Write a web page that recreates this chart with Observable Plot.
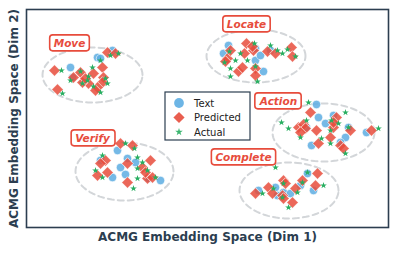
<!DOCTYPE html>
<html>
<head>
<meta charset="utf-8">
<script src="https://cdn.jsdelivr.net/npm/d3@7"></script>
<script src="https://cdn.jsdelivr.net/npm/@observablehq/plot@0.6"></script>
<style>
  html, body { margin: 0; padding: 0; background: white; }
  #chart svg { display: block; }
</style>
</head>
<body>
<div id="chart"></div>
<script>
// ---- Cluster metadata ----
const clusterNames = ["Move", "Locate", "Action", "Verify", "Complete"];
const ellipseCx = [-11.5, 4.85, 11.6, -8.3, 8.15];
const ellipseCy = [4.35, 6.25, -1.4, -5.3, -7.2];
const ellipseRx = [5.0, 4.95, 5.1, 4.9, 4.95];
const ellipseRy = [2.75, 2.65, 2.9, 2.9, 2.8];
const labelX = [-13.8, 3.9, 7.1, -11.5, 3.6];
const labelY = [7.5, 9.4, 1.7, -2.0, -3.9];

// ---- Legend / axis text ----
const seriesNames = ["Text", "Predicted", "Actual"];
const xTitle = "ACMG Embedding Space (Dim 1)";
const yTitle = "ACMG Embedding Space (Dim 2)";

// ---- Points: [x, y] in embedding units ----
const moveText = [[-13.7,5.1],[-11.0,6.1],[-13.5,4.1],[-10.7,6.0],[-9.5,6.8]];
const movePred = [[-15.3,4.8],[-15.0,2.9],[-11.4,4.5],[-11.9,3.5],[-12.7,4.6],[-12.5,3.6],[-10.5,5.1],[-10.4,4.1],[-10.5,3.6],[-11.0,3.1],[-10.0,6.6],[-9.2,6.5],[-11.2,2.8],[-12.2,4.0],[-13.4,4.1]];
const moveActual = [[-14.6,4.8],[-14.5,2.5],[-11.5,5.1],[-10.7,5.8],[-12.7,4.7],[-13.7,3.8],[-12.5,3.5],[-11.9,4.2],[-11.4,3.2],[-10.7,2.6],[-10.2,4.0],[-9.7,6.3],[-8.9,6.5],[-10.0,3.5],[-12.0,3.8]];

const locateText = [[2.1,7.3],[4.8,5.8],[5.6,4.7],[4.8,7.0],[5.3,6.3],[6.3,6.8],[1.6,6.5]];
const locatePred = [[3.9,7.5],[3.7,6.5],[3.1,4.7],[3.5,5.1],[2.0,6.0],[2.3,6.8],[1.8,5.7],[4.8,5.0],[4.8,4.3],[6.0,6.7],[6.8,6.5],[8.4,7.1],[8.5,6.2],[4.6,6.8],[4.5,7.2]];
const locateActual = [[2.2,6.7],[2.8,5.8],[2.3,5.0],[1.7,5.6],[4.7,7.5],[4.0,5.8],[3.3,6.5],[6.3,7.3],[7.5,6.5],[8.0,6.9],[8.8,6.2],[5.0,3.7],[2.3,4.2],[4.8,5.2],[7.0,6.8]];

const actionText = [[10.9,1.4],[11.1,0.1],[11.8,-0.5],[12.6,0.3],[13.8,-1.9],[10.4,-2.7],[13.3,-2.4],[9.9,-0.9],[14.1,-0.9],[15.9,-1.4]];
const actionPred = [[10.3,0.6],[9.1,-0.9],[9.6,-0.6],[9.8,-1.0],[10.9,-1.2],[11.1,-2.5],[12.3,-1.9],[12.6,-0.9],[12.9,0.1],[12.6,-0.4],[13.3,-2.7],[13.6,-3.0],[14.3,-1.2],[16.4,-1.2],[9.3,-1.4]];
const actionActual = [[7.4,-0.4],[8.1,-1.0],[9.9,-0.2],[9.3,-1.9],[12.3,-1.2],[12.4,-0.2],[11.4,-2.0],[12.3,-2.5],[13.8,0.6],[14.1,-0.9],[13.8,-3.5],[17.1,-1.0],[10.1,1.6],[13.1,-0.5]];

const verifyText = [[-9.0,-3.2],[-8.7,-4.9],[-8.0,-4.0],[-9.5,-5.9],[-8.2,-5.6],[-7.2,-4.4],[-4.7,-6.2],[-5.9,-6.0],[-10.7,-4.2]];
const verifyPred = [[-8.7,-2.5],[-7.5,-2.7],[-10.2,-4.2],[-10.7,-4.5],[-10.0,-5.4],[-11.0,-5.7],[-8.0,-4.5],[-6.5,-4.9],[-5.7,-4.2],[-6.0,-6.0],[-5.5,-5.9],[-8.0,-6.4],[-6.2,-5.4]];
const verifyActual = [[-8.2,-2.5],[-7.3,-3.0],[-7.0,-3.9],[-10.5,-3.7],[-11.2,-5.2],[-10.5,-5.9],[-7.0,-5.0],[-6.0,-5.2],[-7.4,-7.0],[-7.0,-6.0],[-5.2,-5.9],[-6.5,-4.4]];

const completeText = [[5.1,-7.2],[6.8,-6.9],[7.6,-7.4],[8.3,-7.5],[9.3,-6.7],[10.0,-5.5],[10.6,-7.2],[7.0,-7.7]];
const completePred = [[11.0,-5.5],[10.8,-6.7],[7.6,-6.2],[7.8,-6.5],[6.1,-6.9],[6.5,-7.5],[4.8,-7.5],[7.5,-7.7],[8.5,-8.4],[9.5,-6.2],[8.8,-7.0],[7.6,-8.0]];
const completeActual = [[6.8,-4.9],[5.5,-7.5],[6.6,-7.0],[7.6,-6.5],[9.0,-7.4],[9.5,-6.4],[10.0,-5.4],[11.6,-6.7],[8.1,-8.9],[7.5,-7.9]];

// ---- Build tables ----
const textSets = [moveText, locateText, actionText, verifyText, completeText];
const predSets = [movePred, locatePred, actionPred, verifyPred, completePred];
const actualSets = [moveActual, locateActual, actionActual, verifyActual, completeActual];
const toRows = sets => sets.flatMap((s, i) => s.map(([x, y]) => ({cluster: clusterNames[i], x, y})));
const textPts = toRows(textSets);
const predPts = toRows(predSets);
const actualPts = toRows(actualSets);

const ellipsePts = clusterNames.flatMap((name, i) =>
  d3.range(73).map(k => {
    const t = k / 72 * 2 * Math.PI;
    return {cluster: name, x: ellipseCx[i] + ellipseRx[i] * Math.cos(t), y: ellipseCy[i] + ellipseRy[i] * Math.sin(t)};
  })
);
const labels = clusterNames.map((name, i) => ({name, x: labelX[i], y: labelY[i]}));

const BLUE = "#5dade2", RED = "#e74c3c", GREEN = "#27ae60", DARK = "#2c3e50";

const svg = Plot.plot({
  width: 396,
  height: 254,
  marginLeft: 26,
  marginRight: 8,
  marginTop: 9,
  marginBottom: 27,
  style: {background: "white", fontFamily: "DejaVu Sans, sans-serif"},
  x: {domain: [-18.1, 18.1], axis: null},
  y: {domain: [-10.9, 10.9], axis: null},
  marks: [
    Plot.line(ellipsePts, {x: "x", y: "y", z: "cluster", stroke: "#d3d6d9", strokeWidth: 2, strokeDasharray: "6,4"}),
    Plot.dot(textPts, {x: "x", y: "y", r: 4.2, fill: BLUE, fillOpacity: 0.85, stroke: "white", strokeWidth: 0.6}),
    Plot.dot(predPts, {x: "x", y: "y", symbol: "diamond2", r: 5.2, fill: RED, fillOpacity: 0.85, stroke: "white", strokeWidth: 0.7}),
    Plot.dot(actualPts, {x: "x", y: "y", symbol: "star", r: 2.1, fill: GREEN, stroke: "none"}),
    Plot.frame({stroke: DARK, strokeWidth: 1.6}),
    Plot.text(labels, {x: "x", y: "y", text: "name", fill: RED, fontWeight: "bold", fontStyle: "italic", fontSize: 10.5}),
    Plot.text([xTitle], {frameAnchor: "bottom", dy: 13, text: d => d, fill: DARK, fontWeight: "bold", fontSize: 12}),
    Plot.text([yTitle], {frameAnchor: "left", dx: -12, rotate: -90, textAnchor: "middle", text: d => d, fill: DARK, fontWeight: "bold", fontSize: 12})
  ]
});
document.getElementById("chart").appendChild(svg);

// Rounded boxes behind cluster labels
svg.querySelectorAll("text").forEach(t => {
  if (!clusterNames.includes(t.textContent)) return;
  const bb = t.getBBox();
  const rect = document.createElementNS("http://www.w3.org/2000/svg", "rect");
  rect.setAttribute("x", bb.x - 4);
  rect.setAttribute("y", bb.y - 2);
  rect.setAttribute("width", bb.width + 8);
  rect.setAttribute("height", bb.height + 4);
  rect.setAttribute("rx", 3);
  rect.setAttribute("fill", "white");
  rect.setAttribute("stroke", RED);
  rect.setAttribute("stroke-width", 1.6);
  if (t.getAttribute("transform")) rect.setAttribute("transform", t.getAttribute("transform"));
  t.parentNode.insertBefore(rect, t);
});

// Legend inside the plot
const lg = d3.select(svg).append("g").attr("font-family", "DejaVu Sans, sans-serif").attr("text-anchor", "start");
lg.append("rect").attr("x", 165).attr("y", 92).attr("width", 85).attr("height", 48)
  .attr("fill", "white").attr("stroke", DARK).attr("stroke-width", 1.2);
const legSyms = [
  {sym: d3.symbolCircle, size: 75, fill: BLUE},
  {sym: d3.symbolDiamond2, size: 80, fill: RED},
  {sym: d3.symbolStar, size: 18, fill: GREEN}
];
seriesNames.forEach((name, i) => {
  const cy = 103 + i * 14.5;
  lg.append("path").attr("d", d3.symbol(legSyms[i].sym, legSyms[i].size)())
    .attr("transform", `translate(179,${cy})`).attr("fill", legSyms[i].fill).attr("fill-opacity", 0.9);
  lg.append("text").attr("x", 194).attr("y", cy).attr("dy", "0.35em").attr("text-anchor", "start")
    .attr("font-size", 10).attr("fill", "#222").text(name);
});
</script>
</body>
</html>
